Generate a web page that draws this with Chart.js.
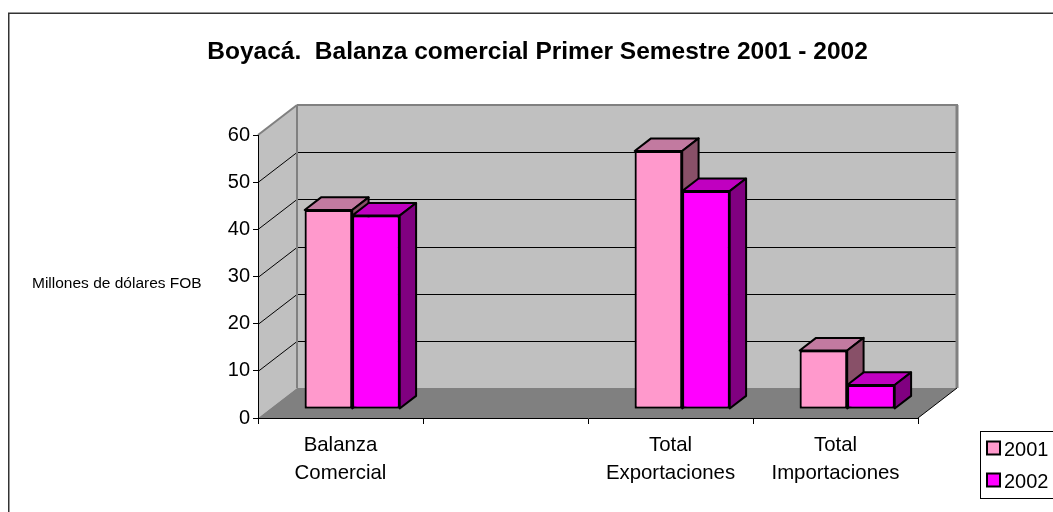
<!DOCTYPE html>
<html>
<head>
<meta charset="utf-8">
<title>Boyacá. Balanza comercial</title>
<script src="https://cdn.jsdelivr.net/npm/chart.js@4.4.1/dist/chart.umd.min.js"></script>
<style>
    html, body { margin: 0; padding: 0; background: #fff; }
    canvas { display: block; }
</style>
</head>
<body>
<canvas id="grafico" width="1053" height="512"></canvas>
<script>
const categorias = [["Balanza", "Comercial"], "", ["Total", "Exportaciones"], ["Total", "Importaciones"]];
const anos = ["2001", "2002"];
const valores2001 = [42.2, null, 54.7, 12.4];
const valores2002 = [41.0, null, 46.2, 5.1];
const ticksY = [0, 10, 20, 30, 40, 50, 60];
const titulo = "Boyacá.  Balanza comercial Primer Semestre 2001 - 2002";
const tituloEje = "Millones de dólares FOB";

const fonte = '"Liberation Sans", Arial, sans-serif';
// cor da frente, do topo e do lado de cada serie
const cores = [
    { frente: "#FF99CC", topo: "#C27AA0", lado: "#885068" },
    { frente: "#FF00FF", topo: "#C000C0", lado: "#800080" }
];
const prof = { dx: 39, dy: -30 };   // profundidade do piso
const posBarra = 0.3;               // frente da barra dentro do piso
const espBarra = 0.42;              // espessura da barra

function poligono(ctx, pts) {
    ctx.beginPath();
    ctx.moveTo(pts[0][0], pts[0][1]);
    for (let i = 1; i < pts.length; i++) {
        ctx.lineTo(pts[i][0], pts[i][1]);
    }
    ctx.closePath();
}

function linha(ctx, x1, y1, x2, y2) {
    ctx.beginPath();
    ctx.moveTo(x1, y1);
    ctx.lineTo(x2, y2);
    ctx.stroke();
}

// paredes, piso e grade de fundo
const paredes = {
    id: "paredes",
    beforeDraw(chart) {
        const ctx = chart.ctx;
        const a = chart.chartArea;
        const escalaY = chart.scales.y;
        const L = a.left, R = a.right, T = a.top, B = a.bottom;
        const dx = prof.dx, dy = prof.dy;

        ctx.save();
        ctx.fillStyle = "#fff";
        ctx.fillRect(0, 0, chart.width, chart.height);

        ctx.strokeStyle = "#333";
        ctx.lineWidth = 1.5;
        ctx.strokeRect(8.75, 13.25, chart.width + 50, chart.height + 50);

        ctx.fillStyle = "#C0C0C0";
        poligono(ctx, [[L, T], [L + dx, T + dy], [L + dx, B + dy], [L, B]]);
        ctx.fill();
        ctx.fillRect(L + dx, T + dy, R - L, B - T);

        ctx.fillStyle = "#808080";
        poligono(ctx, [[L, B], [R, B], [R + dx, B + dy], [L + dx, B + dy]]);
        ctx.fill();

        ctx.strokeStyle = "#000";
        ctx.lineWidth = 1;
        escalaY.ticks.forEach((t) => {
            if (t.value === escalaY.min || t.value === escalaY.max) return;
            const py = Math.round(escalaY.getPixelForValue(t.value)) + 0.5;
            linha(ctx, L, py, L + dx, py + dy);
            linha(ctx, L + dx, py + dy, R + dx, py + dy);
        });

        ctx.strokeStyle = "#808080";
        ctx.lineWidth = 2;
        linha(ctx, L, T, L + dx, T + dy);
        linha(ctx, L + dx, T + dy, R + dx + 1, T + dy);
        linha(ctx, L + dx, T + dy, L + dx, B + dy);
        ctx.lineWidth = 3;
        linha(ctx, R + dx, T + dy, R + dx, B + dy);

        ctx.strokeStyle = "#000";
        ctx.lineWidth = 1;
        linha(ctx, R, B, R + dx, B + dy);
        ctx.restore();
    }
};

// barras em 3D: frente pelo chart.js, topo e lado aqui
const barras3d = {
    id: "barras3d",
    beforeDatasetsDraw(chart) {
        chart.ctx.save();
        chart.ctx.translate(prof.dx * posBarra, prof.dy * posBarra);
    },
    afterDatasetsDraw(chart) {
        const ctx = chart.ctx;
        const ddx = prof.dx * espBarra, ddy = prof.dy * espBarra;
        chart.data.datasets.forEach((ds, i) => {
            const meta = chart.getDatasetMeta(i);
            const c = cores[i];
            meta.data.forEach((bar, j) => {
                if (ds.data[j] === null) return;
                bar.draw(ctx);
                const { x, y, base, width } = bar.getProps(["x", "y", "base", "width"], true);
                const l = x - width / 2, r = x + width / 2;
                ctx.lineWidth = 2;
                ctx.strokeStyle = "#000";
                ctx.lineJoin = "round";
                ctx.fillStyle = c.topo;
                poligono(ctx, [[l, y], [r, y], [r + ddx, y + ddy], [l + ddx, y + ddy]]);
                ctx.fill();
                ctx.stroke();
                ctx.fillStyle = c.lado;
                poligono(ctx, [[r, y], [r + ddx, y + ddy], [r + ddx, base + ddy], [r, base]]);
                ctx.fill();
                ctx.stroke();
            });
        });
        ctx.restore();
    }
};

// titulo do eixo e legenda
const textos = {
    id: "textos",
    afterDraw(chart) {
        const ctx = chart.ctx;
        ctx.save();
        ctx.fillStyle = "#000";
        ctx.font = "15.5px " + fonte;
        ctx.textAlign = "left";
        ctx.textBaseline = "middle";
        ctx.fillText(tituloEje, 32, 284);

        ctx.fillStyle = "#fff";
        ctx.fillRect(980, 431, 120, 67);
        ctx.strokeStyle = "#000";
        ctx.lineWidth = 1;
        ctx.strokeRect(980.5, 431.5, 120, 67);

        chart.data.datasets.forEach((ds, i) => {
            const yy = 447.5 + i * 32;
            ctx.fillStyle = ds.backgroundColor;
            ctx.fillRect(987, yy - 6, 13, 13);
            ctx.lineWidth = 2;
            ctx.strokeStyle = "#000";
            ctx.strokeRect(987, yy - 6, 13, 13);
            ctx.fillStyle = "#000";
            ctx.font = "20px " + fonte;
            ctx.fillText(ds.label, 1004, yy + 2.5);
        });
        ctx.restore();
    }
};

new Chart(document.getElementById("grafico"), {
    type: "bar",
    data: {
        labels: categorias,
        datasets: [
            {
                label: anos[0],
                data: valores2001,
                backgroundColor: cores[0].frente,
                borderColor: "#000",
                borderWidth: 2,
                borderSkipped: false,
                clip: false
            },
            {
                label: anos[1],
                data: valores2002,
                backgroundColor: cores[1].frente,
                borderColor: "#000",
                borderWidth: 2,
                borderSkipped: false,
                clip: false
            }
        ]
    },
    options: {
        responsive: false,
        animation: false,
        devicePixelRatio: 1,
        events: [],
        categoryPercentage: 0.576,
        barPercentage: 1,
        layout: {
            padding: { left: 157, right: 135, top: 0, bottom: 4 }
        },
        plugins: {
            legend: { display: false },
            tooltip: { enabled: false },
            title: {
                display: true,
                text: titulo,
                color: "#000",
                font: { family: fonte, size: 24.5, weight: "bold" },
                padding: { top: 38, bottom: 67.6 }
            }
        },
        scales: {
            x: {
                clip: false,
                afterFit: (scale) => { scale.height = 90; },
                grid: { drawOnChartArea: false, tickLength: 6, color: "#000" },
                border: { display: true, color: "#000", width: 1 },
                ticks: {
                    color: "#000",
                    padding: 7.5,
                    maxRotation: 0,
                    autoSkip: false,
                    font: { family: fonte, size: 20.4, lineHeight: 1.37 }
                }
            },
            y: {
                min: ticksY[0],
                max: ticksY[ticksY.length - 1],
                afterFit: (scale) => { scale.width = 101; },
                afterBuildTicks: (scale) => { scale.ticks = ticksY.map((v) => ({ value: v })); },
                grid: { drawOnChartArea: false, tickLength: 5, color: "#000" },
                border: { display: true, color: "#000", width: 1 },
                ticks: {
                    color: "#000",
                    padding: 3,
                    font: { family: fonte, size: 20 }
                }
            }
        }
    },
    plugins: [paredes, barras3d, textos]
});
</script>
</body>
</html>
